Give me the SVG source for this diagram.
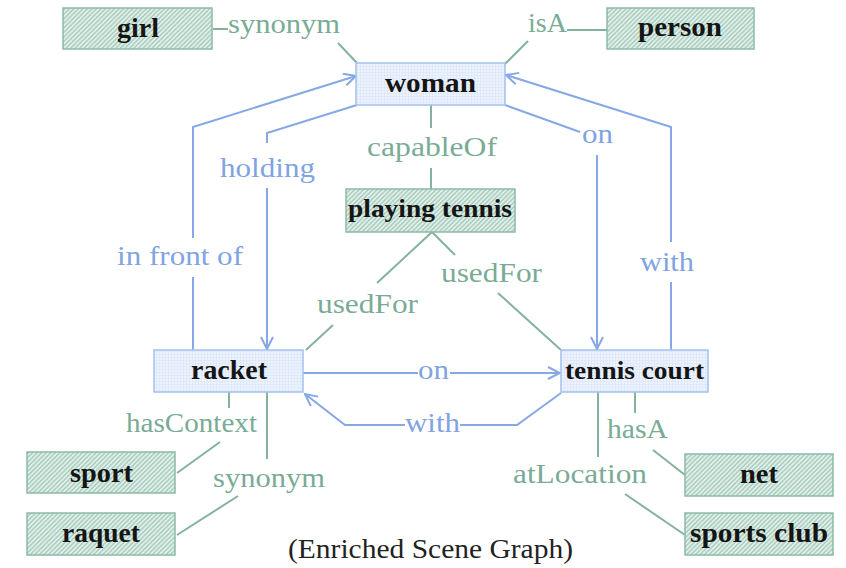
<svg xmlns="http://www.w3.org/2000/svg" width="846" height="568" viewBox="0 0 846 568">
  <defs>
    <!-- diagonal hatch for knowledge (commonsense) nodes -->
    <pattern id="hatch" width="3.2" height="3.2" patternUnits="userSpaceOnUse" patternTransform="rotate(45)">
      <rect width="3.2" height="3.2" fill="#e0efe9"/>
      <line x1="0.8" y1="0" x2="0.8" y2="3.2" stroke="#97c2b1" stroke-width="1.1"/>
    </pattern>
    <!-- fine grid for scene objects -->
    <pattern id="grid" width="3" height="3" patternUnits="userSpaceOnUse">
      <rect width="3" height="3" fill="#ecf3fd"/>
      <path d="M0 0.5H3M0.5 0V3" stroke="#dbe7f9" stroke-width="0.7"/>
    </pattern>
    <marker id="arrow" viewBox="0 0 14 14" refX="13" refY="7" markerWidth="14" markerHeight="14" markerUnits="userSpaceOnUse" orient="auto">
      <path d="M1 1 L13 7 L1 13" fill="none" stroke="#86a8e6" stroke-width="2"/>
    </marker>
  </defs>
  <style>
    .kb rect { fill: url(#hatch); stroke: #8dbba9; stroke-width: 1.5; }
    .obj rect { fill: url(#grid); stroke: #a3c1f0; stroke-width: 1.5; }
    .node text { font-family: "Liberation Serif", "DejaVu Serif", serif; font-weight: bold; fill: #151515; }
    .lbl { font-family: "Liberation Serif", "DejaVu Serif", serif; font-size: 28px; }
    .g { fill: #7aab96; }
    .b { fill: #7fa3e3; }
    .gl { fill: none; stroke: #84b29f; stroke-width: 2; }
    .bl { fill: none; stroke: #86a8e6; stroke-width: 2; }
    .caption { font-family: "Liberation Serif", "Times New Roman", serif; font-size: 28px; fill: #222; }
  </style>

  <rect width="846" height="568" fill="#ffffff"/>

  <!-- connectors -->
  <g id="connectors">
    <!-- commonsense relations (undirected) -->
    <path class="gl" d="M213 29H228"/>
    <path class="gl" d="M338 43L357 63"/>
    <path class="gl" d="M567 30H607"/>
    <path class="gl" d="M505 64L528 41"/>
    <path class="gl" d="M431 105V128M431 168V189"/>
    <path class="gl" d="M432 232L377 283M333 325L306 350"/>
    <path class="gl" d="M432 232L455 255M498 293L561 350"/>
    <path class="gl" d="M229 392V408M220 442L177 473"/>
    <path class="gl" d="M267 392V459M238 496L177 535"/>
    <path class="gl" d="M635 392V413M653 450L685 475"/>
    <path class="gl" d="M598 392V457M625 494L685 535"/>

    <!-- scene relations (directed) -->
    <path class="bl" d="M193 350V277"/>
    <path class="bl" d="M193 238V127L356 76" marker-end="url(#arrow)"/>
    <path class="bl" d="M357 105L267 133V143"/>
    <path class="bl" d="M267 188V349" marker-end="url(#arrow)"/>
    <path class="bl" d="M505 105L580 132"/>
    <path class="bl" d="M597 155V349" marker-end="url(#arrow)"/>
    <path class="bl" d="M671 350V282"/>
    <path class="bl" d="M671 242V127L506 75" marker-end="url(#arrow)"/>
    <path class="bl" d="M303 373H418"/>
    <path class="bl" d="M450 373H560" marker-end="url(#arrow)"/>
    <path class="bl" d="M561 393L517 425H460"/>
    <path class="bl" d="M405 425H345L305 394" marker-end="url(#arrow)"/>
  </g>

  <!-- edge labels -->
  <g id="edge-labels" class="lbl">
    <text class="g" x="228" y="33" textLength="112" lengthAdjust="spacingAndGlyphs">synonym</text>
    <text class="g" x="528" y="32" textLength="39" lengthAdjust="spacingAndGlyphs">isA</text>
    <text class="g" x="367" y="156" textLength="130" lengthAdjust="spacingAndGlyphs">capableOf</text>
    <text class="g" x="317" y="313" textLength="101" lengthAdjust="spacingAndGlyphs">usedFor</text>
    <text class="g" x="441" y="282" textLength="101" lengthAdjust="spacingAndGlyphs">usedFor</text>
    <text class="g" x="126" y="432" textLength="131" lengthAdjust="spacingAndGlyphs">hasContext</text>
    <text class="g" x="213" y="487" textLength="112" lengthAdjust="spacingAndGlyphs">synonym</text>
    <text class="g" x="607" y="438" textLength="61" lengthAdjust="spacingAndGlyphs">hasA</text>
    <text class="g" x="513" y="483" textLength="134" lengthAdjust="spacingAndGlyphs">atLocation</text>
    <text class="b" x="117" y="265" textLength="126" lengthAdjust="spacingAndGlyphs">in front of</text>
    <text class="b" x="220" y="177" textLength="95" lengthAdjust="spacingAndGlyphs">holding</text>
    <text class="b" x="582" y="143" textLength="31" lengthAdjust="spacingAndGlyphs">on</text>
    <text class="b" x="640" y="271" textLength="54" lengthAdjust="spacingAndGlyphs">with</text>
    <text class="b" x="418" y="379" textLength="31" lengthAdjust="spacingAndGlyphs">on</text>
    <text class="b" x="405" y="432" textLength="55" lengthAdjust="spacingAndGlyphs">with</text>
  </g>

  <!-- scene object nodes -->
  <g id="woman" class="node obj">
    <rect x="356" y="63" width="149" height="42"/>
    <text x="385" y="92" font-size="27" textLength="91" lengthAdjust="spacingAndGlyphs">woman</text>
  </g>
  <g id="racket" class="node obj">
    <rect x="154" y="350" width="149" height="42"/>
    <text x="191" y="379" font-size="27" textLength="76" lengthAdjust="spacingAndGlyphs">racket</text>
  </g>
  <g id="tennis-court" class="node obj">
    <rect x="561" y="350" width="147" height="42"/>
    <text x="565" y="379" font-size="25" textLength="139" lengthAdjust="spacingAndGlyphs">tennis court</text>
  </g>

  <!-- commonsense concept nodes -->
  <g id="girl" class="node kb">
    <rect x="63" y="8" width="149" height="41"/>
    <text x="117" y="37" font-size="27" textLength="42" lengthAdjust="spacingAndGlyphs">girl</text>
  </g>
  <g id="person" class="node kb">
    <rect x="607" y="8" width="147" height="41"/>
    <text x="638" y="36" font-size="27" textLength="84" lengthAdjust="spacingAndGlyphs">person</text>
  </g>
  <g id="playing-tennis" class="node kb">
    <rect x="346" y="189" width="169" height="43"/>
    <text x="348" y="217" font-size="25" textLength="164" lengthAdjust="spacingAndGlyphs">playing tennis</text>
  </g>
  <g id="sport" class="node kb">
    <rect x="27" y="452" width="148" height="41"/>
    <text x="70" y="482" font-size="27" textLength="63" lengthAdjust="spacingAndGlyphs">sport</text>
  </g>
  <g id="raquet" class="node kb">
    <rect x="27" y="513" width="148" height="42"/>
    <text x="62" y="542" font-size="27" textLength="78" lengthAdjust="spacingAndGlyphs">raquet</text>
  </g>
  <g id="net" class="node kb">
    <rect x="685" y="454" width="148" height="42"/>
    <text x="740" y="483" font-size="27" textLength="38" lengthAdjust="spacingAndGlyphs">net</text>
  </g>
  <g id="sports-club" class="node kb">
    <rect x="685" y="513" width="148" height="42"/>
    <text x="690" y="542" font-size="27" textLength="138" lengthAdjust="spacingAndGlyphs">sports club</text>
  </g>

  <text class="caption" x="288" y="558" textLength="285" lengthAdjust="spacingAndGlyphs">(Enriched Scene Graph)</text>
</svg>
